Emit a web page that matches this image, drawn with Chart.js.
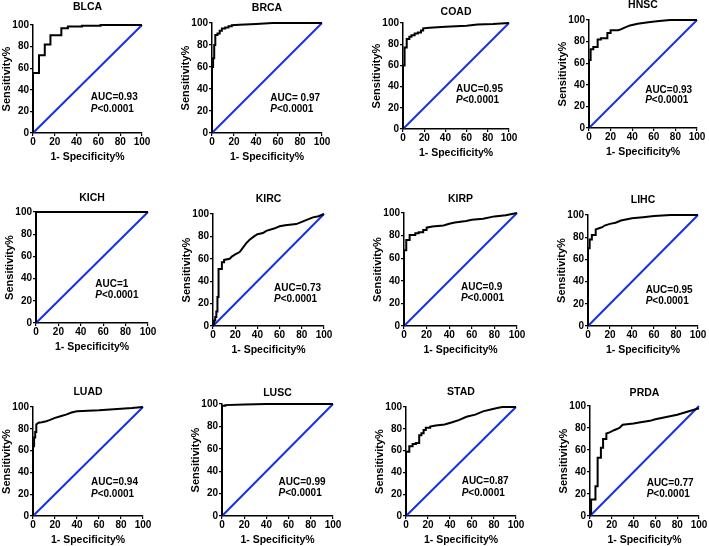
<!DOCTYPE html>
<html>
<head>
<meta charset="utf-8">
<script src="https://cdn.jsdelivr.net/npm/chart.js@4.4.1/dist/chart.umd.min.js"></script>
<style>
  html, body { margin: 0; padding: 0; background: #fff; }
  body { width: 709px; height: 546px; position: relative; overflow: hidden; }
  canvas { position: absolute; }
</style>
</head>
<body>
<script>
// tick labels, shared by both axes of every panel
const tickValues = [0, 20, 40, 60, 80, 100];
// the reference (chance) line, from 0 to 100 on both axes
const chanceLine = [0, 100];

const cancers = ['BLCA', 'BRCA', 'COAD', 'HNSC', 'KICH', 'KIRC', 'KIRP', 'LIHC', 'LUAD', 'LUSC', 'STAD', 'PRDA'];
const aucLabels = ['AUC=0.93', 'AUC= 0.97', 'AUC=0.95', 'AUC=0.93', 'AUC=1', 'AUC=0.73', 'AUC=0.9', 'AUC=0.95', 'AUC=0.94', 'AUC=0.99', 'AUC=0.87', 'AUC=0.77'];
const pLabel = '<0.0001';

// ROC curves: x = 1-specificity %, y = sensitivity %
const blcaX = [0, 0, 5.5, 5.5, 10.8, 10.8, 16, 16, 26, 26, 32, 32, 45, 45, 62, 62, 100];
const blcaY = [0, 55.6, 55.6, 72, 72, 82, 82, 90.5, 90.5, 97, 97, 98.5, 98.5, 99.3, 99.3, 100, 100];
const brcaX = [0, 0, 1, 1, 2, 2, 3, 3, 5, 5, 7, 7, 9, 9, 12, 12, 15, 15, 18, 18, 25, 40, 55, 100];
const brcaY = [0, 60, 60, 68, 68, 80, 80, 89, 89, 90.5, 90.5, 93, 93, 95, 95, 96, 96, 97, 97, 98, 98.3, 99, 100, 100];
const coadX = [0, 0, 1.5, 1.5, 3.5, 3.5, 6, 6, 8, 8, 11, 11, 14, 14, 17, 17, 19, 19, 25, 40, 60, 70, 85, 100];
const coadY = [0, 60, 60, 77, 77, 85, 85, 87, 87, 88.5, 88.5, 90, 90, 91, 91, 93, 93, 95, 95.5, 96.5, 97.5, 98.5, 99, 100];
const hnscX = [0, 0, 1.5, 1.5, 4, 4, 8, 8, 11, 11, 17, 17, 20, 20, 27, 30, 33, 38, 45, 55, 65, 75, 100];
const hnscY = [0, 63, 63, 73, 73, 75, 75, 82, 82, 83, 83, 88, 88, 90.5, 90.5, 91.5, 93, 95, 96.5, 98, 99, 100, 100];
const kichX = [0, 0, 100];
const kichY = [0, 100, 100];
const kircX = [0, 1, 1, 2, 2, 3, 3, 4, 4, 5, 5, 8, 8, 10, 10, 15, 17, 20, 24, 27, 30, 33, 37, 40, 45, 48, 55, 60, 65, 75, 80, 85, 90, 95, 100];
const kircY = [0, 2, 5, 5, 8, 8, 13, 13, 26, 26, 51, 51, 57, 57, 59, 60, 62, 64, 66, 70, 74, 77, 80, 82, 83, 85, 87, 89, 90, 91, 93, 95, 97, 98, 100];
const kirpX = [0, 0, 2, 2, 5, 5, 10, 10, 13, 13, 17, 17, 20, 20, 25, 35, 40, 45, 55, 60, 70, 80, 90, 100];
const kirpY = [0, 67, 67, 76, 76, 80.5, 80.5, 82, 82, 83, 83, 85, 85, 87, 88, 89, 90.5, 91.5, 93, 94, 95, 97, 98, 100];
const lihcX = [0, 0, 1.5, 1.5, 3.5, 3.5, 7, 7, 10, 13, 15, 20, 25, 30, 40, 50, 60, 75, 100];
const lihcY = [0, 70, 70, 78, 78, 82, 82, 87, 88, 89, 90.5, 92, 93, 95, 97, 98, 99, 100, 100];
const luadX = [0, 0, 1, 1, 2, 2, 3, 3, 5, 8, 12, 15, 20, 25, 30, 35, 40, 60, 80, 90, 100];
const luadY = [0, 64, 64, 72, 72, 77, 77, 84, 85.5, 86, 87, 88, 90, 91.5, 93, 95, 96, 97, 98.5, 99, 100];
const luscX = [0, 0, 3, 3, 20, 40, 100];
const luscY = [0, 98.5, 98.5, 99, 99.5, 100, 100];
const stadX = [0, 0, 3, 3, 6, 6, 9, 9, 12, 12, 14, 14, 16, 16, 18, 18, 22, 22, 27, 35, 42, 48, 55, 63, 70, 78, 85, 88, 100];
const stadY = [0, 59, 59, 64, 64, 66, 66, 67, 67, 74, 74, 76, 76, 79, 79, 81, 81, 82, 83, 84, 86, 88, 91, 93, 96, 98, 99.5, 100, 100];
const prdaX = [0, 1, 1, 5, 5, 7, 7, 10, 10, 12, 12, 15, 15, 18, 22, 27, 30, 40, 45, 55, 60, 70, 80, 90, 100];
const prdaY = [0, 3, 15, 15, 27, 27, 53, 53, 62, 62, 70, 70, 75, 76, 78, 80, 83, 84, 85, 86.5, 88, 90, 92, 95, 98];

const curvesX = [blcaX, brcaX, coadX, hnscX, kichX, kircX, kirpX, lihcX, luadX, luscX, stadX, prdaX];
const curvesY = [blcaY, brcaY, coadY, hnscY, kichY, kircY, kirpY, lihcY, luadY, luscY, stadY, prdaY];

// layout: plot area [left, top, right, bottom] in page pixels for each panel
const plotBoxes = [
  [33, 25, 142, 133], [212, 23, 322, 133], [403, 23, 509, 129], [589, 20, 697, 128],
  [36, 212, 148, 323], [213, 214, 324, 326], [404, 213, 517, 326], [588, 215, 698, 326],
  [33, 407, 143, 516], [222, 404, 333, 516], [406, 407, 516, 516], [590, 406, 699, 516]
];
const titleGaps = [18, 15, 11, 15, 14, 15, 14, 15, 15, 11, 15, 13];
// where the AUC / P text sits, in axis units (left x, AUC line y, P line y)
const textLeft = [53, 53, 50, 52, 53, 55, 50.4, 52.4, 52.7, 51, 50.6, 52];
const aucLineY = [33.4, 32, 37.5, 35.4, 35, 33.4, 34.7, 32, 31, 30, 32, 30];
const pLineY = [22, 22, 27.5, 25.5, 24.6, 23.6, 25, 22, 20, 20, 20.7, 20];

const FONT = '"Liberation Sans", Arial, Helvetica, sans-serif';
const PAD_L = 40, PAD_T = 30, PAD_R = 14, PAD_B = 36;

// title above the plot and the AUC / P annotation
const panelText = {
  id: 'panelText',
  afterDatasetsDraw(chart, args, opts) {
    const { ctx, chartArea, scales } = chart;
    ctx.save();
    ctx.fillStyle = '#000';
    ctx.textBaseline = 'middle';
    ctx.textAlign = 'center';
    ctx.font = 'bold 10.5px ' + FONT;
    ctx.fillText(opts.title, (chartArea.left + chartArea.right) / 2, chartArea.top - opts.gap);

    ctx.textAlign = 'left';
    const x = scales.x.getPixelForValue(opts.left);
    ctx.font = 'bold 10px ' + FONT;
    ctx.fillText(opts.auc, x, scales.y.getPixelForValue(opts.aucY));
    const py = scales.y.getPixelForValue(opts.pY);
    ctx.font = 'italic bold 10px ' + FONT;
    ctx.fillText('P', x, py);
    const pw = ctx.measureText('P').width;
    ctx.font = 'bold 10px ' + FONT;
    ctx.fillText(pLabel, x + pw, py);
    ctx.restore();
  }
};

function axis(titleText, isX) {
  return {
    type: 'linear',
    min: 0,
    max: 100,
    afterBuildTicks: s => { s.ticks = tickValues.map(v => ({ value: v })); },
    afterFit: s => { if (isX) s.height = PAD_B; else s.width = PAD_L; },
    grid: { drawOnChartArea: false, drawTicks: true, tickLength: 3, color: '#000', lineWidth: 1.2 },
    border: { color: '#000', width: 1.5 },
    ticks: { color: '#000', padding: isX ? 0 : 1, autoSkip: false, maxRotation: 0, font: { family: FONT, size: 10, weight: 'bold' } },
    title: {
      display: true,
      text: titleText,
      color: '#000',
      font: { family: FONT, size: isX ? 10.5 : 11, weight: 'bold' },
      padding: isX ? { top: 0, bottom: 6 } : { top: 7, bottom: 0 }
    }
  };
}

cancers.forEach((name, i) => {
  const [L, T, R, B] = plotBoxes[i];
  const cv = document.createElement('canvas');
  cv.width = R - L + PAD_L + PAD_R;
  cv.height = B - T + PAD_T + PAD_B;
  cv.style.left = (L - PAD_L) + 'px';
  cv.style.top = (T - PAD_T) + 'px';
  document.body.appendChild(cv);

  new Chart(cv, {
    type: 'scatter',
    data: {
      datasets: [
        {
          data: curvesX[i].map((v, k) => ({ x: v, y: curvesY[i][k] })),
          showLine: true,
          borderColor: '#000',
          borderWidth: 2,
          pointRadius: 0,
          tension: 0,
          clip: 4
        },
        {
          data: chanceLine.map(v => ({ x: v, y: v })),
          showLine: true,
          borderColor: '#1431e6',
          borderWidth: 2,
          pointRadius: 0,
          clip: 4
        }
      ]
    },
    options: {
      responsive: false,
      animation: false,
      events: [],
      layout: { padding: { top: PAD_T, right: PAD_R, bottom: 0, left: 0 } },
      plugins: {
        legend: { display: false },
        tooltip: { enabled: false },
        panelText: {
          title: name,
          gap: titleGaps[i],
          auc: aucLabels[i],
          left: textLeft[i],
          aucY: aucLineY[i],
          pY: pLineY[i]
        }
      },
      scales: {
        x: axis('1- Specificity%', true),
        y: axis('Sensitivity%', false)
      }
    },
    plugins: [panelText]
  });
});
</script>
</body>
</html>
